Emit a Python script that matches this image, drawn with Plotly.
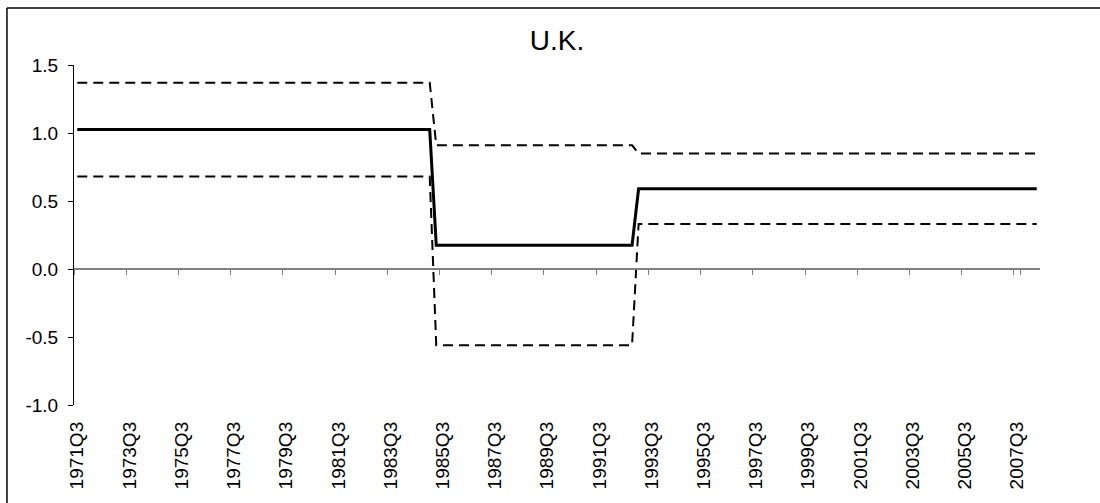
import plotly.graph_objects as go

# Quarterly categories, 1971Q3 through 2008Q2
quarters = [f"{y}Q{q}" for y in range(1971, 2009) for q in range(1, 5)]
quarters = [c for c in quarters if "1971Q3" <= c <= "2008Q2"]

# Regime lengths (quarters) and values for each regime
regime_lengths = [55, 31, 62]
estimate_vals = [1.025, 0.175, 0.59]
upper_vals = [1.37, 0.91, 0.85]
lower_vals = [0.68, -0.56, 0.33]

y_ticks = [-1.0, -0.5, 0.0, 0.5, 1.0, 1.5]
y_tick_text = ["-1.0", "-0.5", "0.0", "0.5", "1.0", "1.5"]

def expand(vals):
    out = []
    for n, v in zip(regime_lengths, vals):
        out += [v] * n
    return out

estimate = expand(estimate_vals)
upper = expand(upper_vals)
lower = expand(lower_vals)

label_cats = quarters[::8]

FONT = "Arial, Liberation Sans, sans-serif"

fig = go.Figure()
dash = "10px,6px"
fig.add_trace(go.Scatter(x=quarters, y=upper, mode="lines",
                         line=dict(color="black", width=2, dash=dash), showlegend=False))
fig.add_trace(go.Scatter(x=quarters, y=lower, mode="lines",
                         line=dict(color="black", width=2, dash=dash), showlegend=False))
fig.add_trace(go.Scatter(x=quarters, y=estimate, mode="lines",
                         line=dict(color="black", width=3), showlegend=False))
# invisible companion trace so the zero-crossing axis has its categories
fig.add_trace(go.Scatter(x=quarters, y=estimate, mode="lines", xaxis="x2",
                         line=dict(color="rgba(0,0,0,0)", width=0),
                         hoverinfo="skip", showlegend=False))

n = len(quarters)
fig.update_layout(
    width=1100, height=503,
    margin=dict(l=74, r=60, t=65, b=98),
    paper_bgcolor="white", plot_bgcolor="white",
    font=dict(family=FONT, size=19, color="black"),
    title=dict(text="U.K.", x=0.5, xref="paper", y=0.92, yref="container",
               yanchor="middle", font=dict(size=28, family=FONT, color="black")),
    xaxis=dict(type="category", categoryorder="array", categoryarray=quarters,
               range=[-0.5, n - 0.5], tickmode="array", tickvals=label_cats,
               ticktext=label_cats, tickangle=-90, ticks="", showline=False,
               showgrid=False, zeroline=False, ticklabelstandoff=12,
               tickfont=dict(size=19, family=FONT, color="black")),
    xaxis2=dict(type="category", categoryorder="array", categoryarray=quarters,
                range=[-0.5, n - 0.5], overlaying="x", anchor="free", position=0.4,
                side="bottom", tickmode="array", tickvals=label_cats,
                tickson="boundaries", ticks="outside", ticklen=5, tickwidth=1,
                tickcolor="#808080", showticklabels=False, showline=True,
                linecolor="#808080", linewidth=1.5, showgrid=False, zeroline=False),
    yaxis=dict(range=[-1.0, 1.5], tickmode="array",
               tickvals=y_ticks, ticktext=y_tick_text,
               ticks="outside", ticklen=5, tickwidth=1, tickcolor="black",
               showline=True, linecolor="black", linewidth=1,
               showgrid=False, zeroline=False, ticklabelstandoff=6,
               tickfont=dict(size=19, family=FONT, color="black")),
)

# outer chart frame (left and top edges)
fig.add_shape(type="line", xref="paper", yref="paper",
              x0=-0.0694, x1=-0.0694, y0=1.1676, y1=-0.4,
              line=dict(color="black", width=1.5))
fig.add_shape(type="line", xref="paper", yref="paper",
              x0=-0.0694, x1=1.2, y0=1.1676, y1=1.1676,
              line=dict(color="black", width=1.5))

fig.write_html("out.html")
